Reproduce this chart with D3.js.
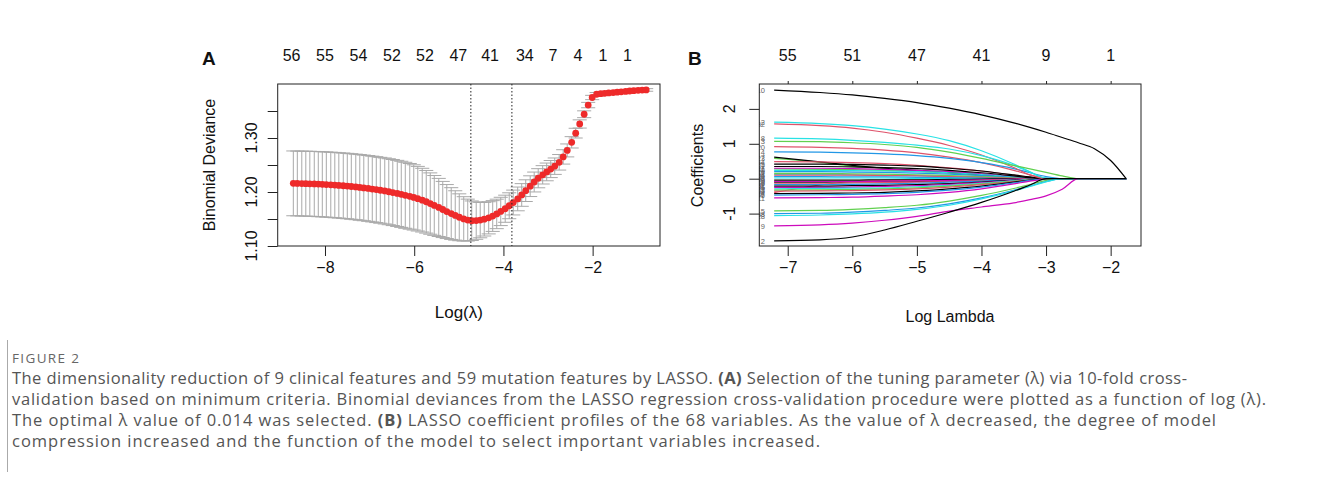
<!DOCTYPE html>
<html>
<head>
<meta charset="utf-8">
<script src="https://cdnjs.cloudflare.com/ajax/libs/d3/7.8.5/d3.min.js"></script>
<style>
  html, body { margin: 0; padding: 0; background: #fff; }
  svg { display: block; }
  .plot text { font-family: "Liberation Sans", Arial, Helvetica, sans-serif; fill: #111; }
  .caption text { font-family: "Open Sans", Lato, sans-serif; fill: #555; }
</style>
</head>
<body>
<svg id="fig" width="1322" height="484"></svg>
<script>
// ---- Panel A: cross-validation curve ----
const logLambdaA = [
  -8.71,-8.62,-8.52,-8.43,-8.34,-8.24,-8.15,-8.06,-7.97,-7.87,
  -7.78,-7.69,-7.59,-7.50,-7.41,-7.31,-7.22,-7.13,-7.03,-6.94,
  -6.85,-6.76,-6.66,-6.57,-6.48,-6.38,-6.29,-6.20,-6.10,-6.01,
  -5.92,-5.82,-5.73,-5.64,-5.55,-5.45,-5.36,-5.27,-5.17,-5.08,
  -4.99,-4.89,-4.80,-4.71,-4.61,-4.52,-4.43,-4.33,-4.24,-4.15,
  -4.06,-3.96,-3.87,-3.78,-3.68,-3.59,-3.50,-3.40,-3.31,-3.22,
  -3.12,-3.03,-2.94,-2.85,-2.75,-2.66,-2.57,-2.47,-2.38,-2.29,
  -2.19,-2.10,-2.01,-1.91,-1.82,-1.73,-1.64,-1.54,-1.45,-1.36,
  -1.26,-1.17,-1.08,-0.98,-0.89,-0.80
];
const cvMean = [
  1.2160,1.2158,1.2156,1.2154,1.2152,1.2149,1.2146,1.2142,1.2138,1.2133,
  1.2128,1.2122,1.2116,1.2110,1.2102,1.2094,1.2085,1.2076,1.2066,1.2055,
  1.2044,1.2032,1.2019,1.2005,1.1990,1.1974,1.1957,1.1939,1.1920,1.1900,
  1.1876,1.1849,1.1819,1.1786,1.1751,1.1714,1.1676,1.1638,1.1601,1.1566,
  1.1532,1.1502,1.1480,1.1468,1.1470,1.1480,1.1497,1.1522,1.1555,1.1594,
  1.1640,1.1690,1.1745,1.1805,1.1872,1.1945,1.2025,1.2108,1.2185,1.2255,
  1.2318,1.2372,1.2425,1.2478,1.2550,1.2650,1.2770,1.2920,1.3090,1.3260,
  1.3440,1.3610,1.3750,1.3810,1.3820,1.3828,1.3835,1.3842,1.3849,1.3856,
  1.3863,1.3870,1.3876,1.3882,1.3887,1.3890
];
const cvSE = [
  0.0600,0.0600,0.0601,0.0601,0.0602,0.0602,0.0603,0.0603,0.0604,0.0604,
  0.0605,0.0605,0.0606,0.0606,0.0607,0.0607,0.0608,0.0608,0.0609,0.0609,
  0.0610,0.0610,0.0611,0.0611,0.0612,0.0612,0.0612,0.0611,0.0608,0.0604,
  0.0598,0.0590,0.0580,0.0568,0.0554,0.0538,0.0520,0.0500,0.0479,0.0457,
  0.0434,0.0411,0.0388,0.0366,0.0346,0.0328,0.0312,0.0298,0.0285,0.0273,
  0.0262,0.0251,0.0240,0.0230,0.0220,0.0210,0.0201,0.0192,0.0184,0.0177,
  0.0170,0.0164,0.0158,0.0152,0.0144,0.0133,0.0120,0.0105,0.0090,0.0076,
  0.0063,0.0050,0.0040,0.0032,0.0030,0.0029,0.0028,0.0027,0.0027,0.0026,
  0.0026,0.0025,0.0025,0.0025,0.0024,0.0024
];
const lambdaLines = [-4.73, -3.81];           // lambda.min, lambda.1se
const topPosA = [-8.75,-8.00,-7.25,-6.50,-5.76,-5.01,-4.30,-3.52,-2.89,-2.33,-1.77,-1.22];
const topLabelsA = ["56","55","54","52","52","47","41","34","7","4","1","1"];
const xTicksA = [-8, -6, -4, -2];
const yTicksA = [1.10, 1.15, 1.20, 1.25, 1.30, 1.35];
const yLabelsA = [1.10, 1.20, 1.30];

// ---- Panel B: coefficient paths ----
const gridB = [-7.21,-6.5,-6,-5.5,-5,-4.5,-4,-3.5,-3.25,-3,-2.75,-2.5,-2.25,-2,-1.76];
const pathVar = ["14","41","64","19","23","7","17","40","16","47","26","34","58","49","29","56",
                 "52","61","35","22","53","62","37","46","11","44","25","31","20","4","12","32",
                 "8","3","5","38","28","9","2","10"];
const pathCol = [1,2,4,0,2,0,5,4,3,2,1,3,4,0,5,1,
                 3,0,5,4,2,1,0,3,5,1,0,0,1,3,4,1,
                 4,2,2,3,4,5,0,0];
const pathCoef = [
  [-0.40,-0.18,-0.08,-0.05,-0.04,-0.03,-0.02,-0.01,0,0,0,0,0,0,0],
  [0.28,0.27,0.26,0.24,0.21,0.17,0.11,0.05,0.02,0,0,0,0,0,0],
  [0.12,0.12,0.11,0.10,0.09,0.07,0.05,0.02,0,0,0,0,0,0,0],
  [-0.10,-0.10,-0.09,-0.09,-0.08,-0.06,-0.04,-0.02,0,0,0,0,0,0,0],
  [0.58,0.47,0.36,0.28,0.22,0.16,0.10,0.04,0.01,0,0,0,0,0,0],
  [0.62,0.48,0.38,0.30,0.24,0.18,0.12,0.05,0.02,0,0,0,0,0,0],
  [0.30,0.30,0.29,0.27,0.24,0.20,0.14,0.06,0.02,0,0,0,0,0,0],
  [0.24,0.24,0.23,0.22,0.20,0.17,0.12,0.05,0.02,0,0,0,0,0,0],
  [0.20,0.20,0.19,0.18,0.16,0.13,0.09,0.04,0.01,0,0,0,0,0,0],
  [0.15,0.15,0.14,0.13,0.11,0.09,0.06,0.02,0,0,0,0,0,0,0],
  [0.10,0.10,0.10,0.09,0.08,0.06,0.04,0.01,0,0,0,0,0,0,0],
  [0.06,0.06,0.05,0.05,0.04,0.03,0.02,0,0,0,0,0,0,0,0],
  [0.02,0.02,0.02,0.02,0.01,0.01,0,0,0,0,0,0,0,0,0],
  [-0.04,-0.04,-0.04,-0.03,-0.03,-0.02,-0.01,0,0,0,0,0,0,0,0],
  [-0.08,-0.08,-0.08,-0.07,-0.06,-0.05,-0.03,-0.01,0,0,0,0,0,0,0],
  [-0.13,-0.13,-0.12,-0.11,-0.10,-0.08,-0.05,-0.02,0,0,0,0,0,0,0],
  [-0.17,-0.17,-0.16,-0.15,-0.13,-0.10,-0.07,-0.03,-0.01,0,0,0,0,0,0],
  [-0.21,-0.21,-0.20,-0.19,-0.17,-0.14,-0.10,-0.04,-0.02,0,0,0,0,0,0],
  [-0.25,-0.25,-0.24,-0.22,-0.20,-0.16,-0.11,-0.05,-0.02,0,0,0,0,0,0],
  [-0.29,-0.28,-0.27,-0.26,-0.23,-0.19,-0.13,-0.06,-0.02,0,0,0,0,0,0],
  [-0.33,-0.32,-0.31,-0.29,-0.26,-0.21,-0.15,-0.07,-0.03,0,0,0,0,0,0],
  [-0.36,-0.35,-0.34,-0.32,-0.29,-0.24,-0.17,-0.08,-0.03,0,0,0,0,0,0],
  [-0.43,-0.42,-0.41,-0.39,-0.35,-0.29,-0.21,-0.10,-0.04,0,0,0,0,0,0],
  [-0.47,-0.46,-0.45,-0.43,-0.39,-0.33,-0.24,-0.12,-0.05,0,0,0,0,0,0],
  [-0.55,-0.54,-0.53,-0.50,-0.46,-0.39,-0.29,-0.15,-0.07,-0.01,0,0,0,0,0],
  [0.49,0.48,0.46,0.43,0.38,0.31,0.22,0.10,0.04,0,0,0,0,0,0],
  [0.42,0.42,0.41,0.39,0.36,0.30,0.22,0.11,0.05,0,0,0,0,0,0],
  [0.35,0.35,0.34,0.32,0.29,0.24,0.17,0.08,0.03,0,0,0,0,0,0],
  [0.92,0.90,0.87,0.82,0.74,0.62,0.46,0.24,0.11,0.02,0,0,0,0,0],
  [0.77,0.76,0.74,0.71,0.66,0.58,0.46,0.29,0.17,0.06,0,0,0,0,0],
  [1.62,1.58,1.52,1.42,1.28,1.09,0.80,0.42,0.20,0,0,0,0,0,0],
  [1.57,1.52,1.45,1.33,1.16,0.95,0.68,0.32,0.11,0,0,0,0,0,0],
  [1.16,1.14,1.10,1.04,0.96,0.85,0.66,0.38,0.19,0.02,0,0,0,0,0],
  [1.07,1.06,1.03,0.98,0.90,0.76,0.58,0.38,0.28,0.18,0.08,0,0,0,0],
  [-0.92,-0.91,-0.88,-0.83,-0.76,-0.64,-0.48,-0.28,-0.17,-0.05,0,0,0,0,0],
  [-1.00,-0.99,-0.96,-0.91,-0.84,-0.72,-0.55,-0.33,-0.21,-0.08,0,0,0,0,0],
  [-1.06,-1.04,-1.01,-0.96,-0.88,-0.76,-0.58,-0.35,-0.22,-0.09,0,0,0,0,0],
  [-1.35,-1.32,-1.27,-1.19,-1.08,-0.93,-0.81,-0.69,-0.60,-0.49,-0.30,0,0,0,0],
  [-1.78,-1.75,-1.67,-1.47,-1.22,-0.96,-0.68,-0.36,-0.18,0,0,0,0,0,0],
  [2.54,2.47,2.40,2.30,2.18,2.02,1.83,1.60,1.47,1.33,1.18,1.03,0.86,0.52,0]
];
const palette = ["#000000", "#DF536B", "#61D04F", "#2297E6", "#28E2E5", "#CD0BBC"];
const xTicksB = [-7, -6, -5, -4, -3, -2];
const topLabelsB = ["55","51","47","41","9","1"];
const yTicksB = [-1, 0, 1, 2];

const captionLines = [
  [["The dimensionality reduction of 9 clinical features and 59 mutation features by LASSO. ", 0], ["(A)", 1], [" Selection of the tuning parameter (\u03bb) via 10-fold cross-", 0]],
  [["validation based on minimum criteria. Binomial deviances from the LASSO regression cross-validation procedure were plotted as a function of log (\u03bb).", 0]],
  [["The optimal \u03bb value of 0.014 was selected. ", 0], ["(B)", 1], [" LASSO coefficient profiles of the 68 variables. As the value of \u03bb decreased, the degree of model", 0]],
  [["compression increased and the function of the model to select important variables increased.", 0]]
];
const captionWidths = [1175, 1254, 1204, 808];

const svg = d3.select("#fig");
svg.append("rect").attr("width", 1322).attr("height", 484).attr("fill", "#fff");

// ================= Panel A =================
const gA = svg.append("g").attr("class", "plot");
const boxA = {x0: 277.7, x1: 660, y0: 84, y1: 246};
const xA = d3.scaleLinear().domain([-9.06, -0.49]).range([boxA.x0, boxA.x1]);
const yA = d3.scaleLinear().domain([1.10, 1.40]).range([boxA.y1, boxA.y0]);

const cvData = logLambdaA.map((l, i) => ({l, m: cvMean[i], s: cvSE[i]}));
const barW = (d3.max(logLambdaA) - d3.min(logLambdaA)) * 0.02;

const eb = gA.append("g").attr("stroke", "#a9a9a9").attr("stroke-width", 1);
eb.selectAll("line.v").data(cvData).join("line").attr("class", "v")
  .attr("x1", d => xA(d.l)).attr("x2", d => xA(d.l))
  .attr("y1", d => yA(d.m + d.s)).attr("y2", d => yA(d.m - d.s));
eb.selectAll("line.u").data(cvData).join("line").attr("class", "u")
  .attr("x1", d => xA(d.l - barW)).attr("x2", d => xA(d.l + barW))
  .attr("y1", d => yA(d.m + d.s)).attr("y2", d => yA(d.m + d.s));
eb.selectAll("line.lo").data(cvData).join("line").attr("class", "lo")
  .attr("x1", d => xA(d.l - barW)).attr("x2", d => xA(d.l + barW))
  .attr("y1", d => yA(d.m - d.s)).attr("y2", d => yA(d.m - d.s));

gA.append("g").selectAll("circle").data(cvData).join("circle")
  .attr("cx", d => xA(d.l)).attr("cy", d => yA(d.m)).attr("r", 3.4)
  .attr("fill", "#ee2a2a");

gA.append("g").selectAll("line").data(lambdaLines).join("line")
  .attr("x1", d => xA(d)).attr("x2", d => xA(d))
  .attr("y1", boxA.y0).attr("y2", boxA.y1)
  .attr("stroke", "#222").attr("stroke-width", 1).attr("stroke-dasharray", "1.5,2");

gA.append("rect").attr("x", boxA.x0).attr("y", boxA.y0)
  .attr("width", boxA.x1 - boxA.x0).attr("height", boxA.y1 - boxA.y0)
  .attr("fill", "none").attr("stroke", "#222");

// x axis
const axA = gA.append("g").attr("transform", `translate(0,${boxA.y1})`)
  .call(d3.axisBottom(xA).tickValues(xTicksA).tickSize(10).tickSizeOuter(0).tickPadding(5.5).tickFormat(d3.format("d")));
axA.select(".domain").remove();
axA.selectAll("line").attr("stroke", "#222");
axA.selectAll("text").attr("font-size", 16).attr("fill", "#111").attr("font-family", "Liberation Sans, Arial, sans-serif");

// y axis
const ayA = gA.append("g").attr("transform", `translate(${boxA.x0},0)`)
  .call(d3.axisLeft(yA).tickValues(yTicksA).tickSize(10).tickSizeOuter(0).tickFormat(""));
ayA.select(".domain").remove();
ayA.selectAll("line").attr("stroke", "#222");
gA.append("g").selectAll("text").data(yLabelsA).join("text")
  .attr("transform", d => `translate(257,${yA(d)}) rotate(-90)`)
  .attr("text-anchor", "middle").attr("font-size", 16)
  .text(d => d3.format(".2f")(d));

// top labels
gA.append("g").selectAll("text").data(topPosA).join("text")
  .attr("x", d => xA(d)).attr("y", 60.7).attr("text-anchor", "middle").attr("font-size", 16)
  .text((d, i) => topLabelsA[i]);

gA.append("text").attr("x", xA(-5)).attr("y", 318).attr("text-anchor", "middle")
  .attr("font-size", 17).text("Log(\u03bb)");
gA.append("text").attr("transform", "translate(215,165) rotate(-90)")
  .attr("text-anchor", "middle").attr("font-size", 16).text("Binomial Deviance");
gA.append("text").attr("x", 202).attr("y", 65).attr("font-size", 19)
  .attr("font-weight", "bold").text("A");

// ================= Panel B =================
const gB = svg.append("g").attr("class", "plot");
const boxB = {x0: 759.3, x1: 1141, y0: 84, y1: 246};
const xB = d3.scaleLinear().domain([-7.44, -1.53]).range([boxB.x0, boxB.x1]);
const yB = d3.scaleLinear().domain([-1.928, 2.713]).range([boxB.y1, boxB.y0]);

svg.append("defs").append("clipPath").attr("id", "clipB")
  .append("rect").attr("x", boxB.x0).attr("y", boxB.y0)
  .attr("width", boxB.x1 - boxB.x0).attr("height", boxB.y1 - boxB.y0);

const lineB = d3.line().x(d => xB(d[0])).y(d => yB(d[1])).curve(d3.curveMonotoneX);
const pathsB = pathCoef.map((vals, i) => ({pts: vals.map((v, j) => [gridB[j], v]), col: palette[pathCol[i]], lab: pathVar[i]}));

const clipG = gB.append("g").attr("clip-path", "url(#clipB)");
clipG.selectAll("path").data(pathsB).join("path")
  .attr("d", d => lineB(d.pts)).attr("fill", "none")
  .attr("stroke", d => d.col).attr("stroke-width", 1.2);
clipG.selectAll("text").data(pathsB).join("text")
  .attr("x", 765).attr("y", d => yB(d.pts[0][1]) + 3)
  .attr("text-anchor", "end").attr("font-size", 7.5).style("fill", "#666")
  .text(d => d.lab);

gB.append("rect").attr("x", boxB.x0).attr("y", boxB.y0)
  .attr("width", boxB.x1 - boxB.x0).attr("height", boxB.y1 - boxB.y0)
  .attr("fill", "none").attr("stroke", "#222");

const axB = gB.append("g").attr("transform", `translate(0,${boxB.y1})`)
  .call(d3.axisBottom(xB).tickValues(xTicksB).tickSize(10).tickSizeOuter(0).tickPadding(5.5).tickFormat(d3.format("d")));
axB.select(".domain").remove();
axB.selectAll("line").attr("stroke", "#222");
axB.selectAll("text").attr("font-size", 16).attr("fill", "#111").attr("font-family", "Liberation Sans, Arial, sans-serif");

const atB = gB.append("g").attr("transform", `translate(0,${boxB.y0})`)
  .call(d3.axisTop(xB).tickValues(xTicksB).tickSize(3).tickSizeOuter(0).tickFormat(""));
atB.select(".domain").remove();
atB.selectAll("line").attr("stroke", "#222");
gB.append("g").selectAll("text").data(xTicksB).join("text")
  .attr("x", d => xB(d)).attr("y", 60.7).attr("text-anchor", "middle").attr("font-size", 16)
  .text((d, i) => topLabelsB[i]);

const ayB = gB.append("g").attr("transform", `translate(${boxB.x0},0)`)
  .call(d3.axisLeft(yB).tickValues(yTicksB).tickSize(10).tickSizeOuter(0).tickFormat(""));
ayB.select(".domain").remove();
ayB.selectAll("line").attr("stroke", "#222");
gB.append("g").selectAll("text").data(yTicksB).join("text")
  .attr("transform", d => `translate(735,${yB(d)}) rotate(-90)`)
  .attr("text-anchor", "middle").attr("font-size", 16)
  .text(d => d);

gB.append("text").attr("x", 950).attr("y", 322).attr("text-anchor", "middle")
  .attr("font-size", 16).text("Log Lambda");
gB.append("text").attr("transform", "translate(703,165.5) rotate(-90)")
  .attr("text-anchor", "middle").attr("font-size", 16).text("Coefficients");
gB.append("text").attr("x", 688).attr("y", 65).attr("font-size", 19)
  .attr("font-weight", "bold").text("B");

// ================= Caption =================
const cap = svg.append("g").attr("class", "caption");
cap.append("line").attr("x1", 7.5).attr("x2", 7.5).attr("y1", 340).attr("y2", 472)
  .attr("stroke", "#aaa").attr("stroke-width", 1);
cap.append("text").attr("x", 12).attr("y", 363).attr("font-size", 13.5)
  .attr("textLength", 67).attr("lengthAdjust", "spacing").style("fill", "#666")
  .text("FIGURE 2");
captionLines.forEach((parts, i) => {
  const t = cap.append("text").attr("x", 12).attr("y", 383.5 + i * 21)
    .attr("font-size", 16.5).attr("textLength", captionWidths[i]).attr("lengthAdjust", "spacing");
  parts.forEach(([s, b]) => {
    t.append("tspan").attr("font-weight", b ? "bold" : null).text(s);
  });
});
</script>
</body>
</html>
